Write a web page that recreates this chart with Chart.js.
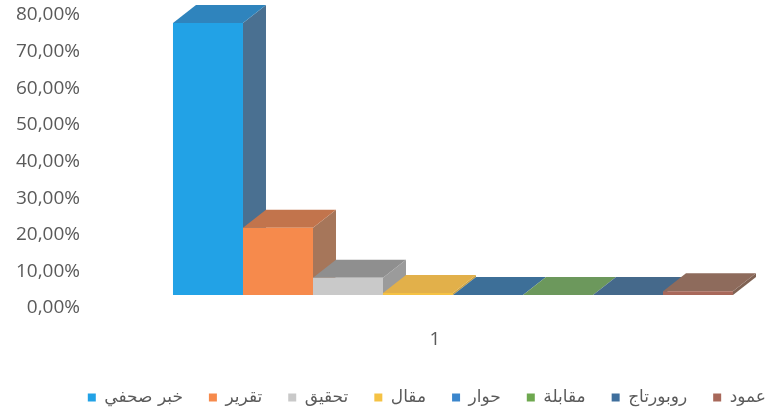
<!DOCTYPE html>
<html>
<head>
<meta charset="utf-8">
<script src="https://cdn.jsdelivr.net/npm/chart.js@4/dist/chart.umd.min.js"></script>
<style>
  html, body { margin: 0; padding: 0; background: #fff; }
  #wrap { width: 775px; height: 412px; overflow: hidden; }
</style>
</head>
<body>
<div id="wrap"><canvas id="chart3d" width="792" height="412"></canvas></div>
<script>
// categories / series
var categories = ["1"];
var seriesNames = ["خبر صحفي", "تقرير", "تحقيق", "مقال", "حوار", "مقابلة", "روبورتاج", "عمود"];
var seriesValues = [77.8, 19.2, 4.9, 0.6, 0, 0, 0, 1.1];
var tickValues = [0, 10, 20, 30, 40, 50, 60, 70, 80];

// colours: front, top, side
var frontColors = ["#22a2e6", "#f68a4c", "#c9c9c9", "#f5c244", "#3b86cc", "#6ea84f", "#3f6f9d", "#a8685a"];
var topColors   = ["#2f84bd", "#c2744c", "#8f8f8f", "#e2b04a", "#3d6f98", "#6c985c", "#45698b", "#8e6b5c"];
var sideColors  = ["#4a7091", "#a6765a", "#9b9b9b", "#c9a042", "#3f6a90", "#5f8a50", "#3f6484", "#7f6253"];

var depthX = 23, depthY = -18;

// draws the depth (side + top faces) behind each bar front
var bars3d = {
    id: 'bars3d',
    beforeDatasetsDraw: function (chart) {
        var ctx = chart.ctx;
        ctx.save();
        chart.data.datasets.forEach(function (ds, i) {
            var meta = chart.getDatasetMeta(i);
            meta.data.forEach(function (el) {
                var p = el.getProps(['x', 'y', 'base', 'width'], true);
                var x0 = p.x - p.width / 2, x1 = p.x + p.width / 2;
                var top = Math.min(p.y, p.base), bot = Math.max(p.y, p.base);
                ctx.fillStyle = sideColors[i];
                ctx.beginPath();
                ctx.moveTo(x1, top);
                ctx.lineTo(x1 + depthX, top + depthY);
                ctx.lineTo(x1 + depthX, bot + depthY);
                ctx.lineTo(x1, bot);
                ctx.closePath();
                ctx.fill();
                ctx.fillStyle = topColors[i];
                ctx.beginPath();
                ctx.moveTo(x0, top);
                ctx.lineTo(x1, top);
                ctx.lineTo(x1 + depthX, top + depthY);
                ctx.lineTo(x0 + depthX, top + depthY);
                ctx.closePath();
                ctx.fill();
            });
        });
        ctx.restore();
    }
};

new Chart(document.getElementById("chart3d"), {
    type: 'bar',
    data: {
        labels: categories,
        datasets: seriesNames.map(function (name, i) {
            return {
                label: name,
                data: [seriesValues[i]],
                backgroundColor: frontColors[i],
                borderWidth: 0,
                yAxisID: 'yb',
                barPercentage: 1,
                categoryPercentage: 0.826
            };
        })
    },
    options: {
        responsive: false,
        animation: false,
        layout: { padding: { top: 5, left: 0, right: 0, bottom: 0 } },
        scales: {
            x: {
                grid: { display: false, drawTicks: false },
                border: { display: false },
                ticks: {
                    color: '#5a5a5a',
                    font: { family: 'Open Sans', size: 19 },
                    padding: 20,
                    labelOffset: -18
                },
                afterFit: function (axis) { axis.height = 55; }
            },
            y: {
                position: 'left',
                min: 0,
                max: 82.73,
                grid: { display: false, drawTicks: false },
                border: { display: false },
                afterBuildTicks: function (axis) {
                    axis.ticks = tickValues.map(function (v) { return { value: v }; });
                },
                ticks: {
                    color: '#5a5a5a',
                    font: { family: 'Open Sans', size: 19 },
                    padding: 34,
                    callback: function (v) { return v.toFixed(2).replace('.', ',') + '%'; }
                },
                afterFit: function (axis) {
                    axis.width = 114;
                    axis.paddingTop = 0;
                    axis.paddingBottom = 0;
                }
            },
            yb: {
                display: false,
                min: -3.72,
                max: 82.95
            }
        },
        plugins: {
            legend: {
                position: 'bottom',
                align: 'end',
                maxHeight: 49,
                labels: {
                    color: '#5a5a5a',
                    font: { family: 'DejaVu Sans', size: 17 },
                    boxWidth: 8,
                    boxHeight: 8,
                    padding: 26
                }
            },
            tooltip: { enabled: false }
        }
    },
    plugins: [bars3d]
});
</script>
</body>
</html>
